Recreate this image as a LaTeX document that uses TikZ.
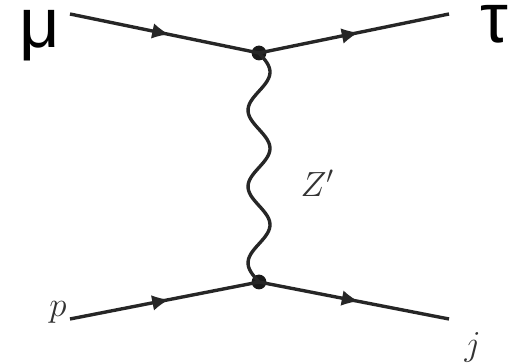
\documentclass[tikz,border=0pt]{standalone}
\usepackage{fontspec}
\setsansfont{Liberation Sans}
\usetikzlibrary{arrows.meta, positioning, calc, decorations.markings}

\begin{document}
\begin{tikzpicture}[
    >=Stealth,
    % Styles for the diagram
    vertex_node/.style={circle, fill=black!90, inner sep=0pt, minimum size=0.37cm},
    fermion/.style={line width=2.4pt, draw=black!85, postaction={decorate},
        decoration={markings, mark=at position 0.52 with {\arrow[line width=0pt]{Latex[length=0.4cm, width=0.38cm, black!85]}}}},
    boson/.style={line width=2.4pt, draw=black!85},
    big_lbl/.style={font=\sffamily\fontsize{50}{50}\selectfont, inner sep=0pt},
    math_lbl/.style={font=\fontsize{23}{23}\selectfont, text=black!80, inner sep=0pt}
]

    \useasboundingbox (0,0) rectangle (12.85,9.1);
    \fill[white] (0,0) rectangle (12.85,9.1);

    % --- Vertices ---
    \node[vertex_node] (v_top) at (6.475, 7.775) {};
    \node[vertex_node] (v_bot) at (6.475, 2.05) {};

    % --- Free ends of the legs ---
    \coordinate (mu_end) at (1.75, 8.75);
    \coordinate (tau_end) at (11.225, 8.75);
    \coordinate (p_end) at (1.75, 1.125);
    \coordinate (j_end) at (11.225, 1.125);

    % --- Fermion lines ---
    \draw[fermion] (mu_end) -- (v_top.center);
    \draw[fermion] (v_top.center) -- (tau_end);
    \draw[fermion] (p_end) -- (v_bot.center);
    \draw[fermion] (v_bot.center) -- (j_end);

    % Exchanged boson, three full waves
    \draw[boson] let \p1=(v_top.center), \p2=(v_bot.center) in
        plot[variable=\t, domain=0:1, samples=91, smooth] ({\x1+7.82pt*sin(1080*\t)}, {\y1+(\y2-\y1)*\t});

    % --- Labels ---
    \node[big_lbl] (mu_lbl) at (1.0, 8.2) {μ};
    \node[big_lbl] (tau_lbl) at (12.36, 8.5) {τ};
    \node[math_lbl] (p_lbl) at (1.45, 1.3) {$p$};
    \node[math_lbl] (z_lbl) at (7.93, 4.52) {$Z'$};
    \node[math_lbl] (j_lbl) at (11.82, 0.42) {$j$};

\end{tikzpicture}
\end{document}
